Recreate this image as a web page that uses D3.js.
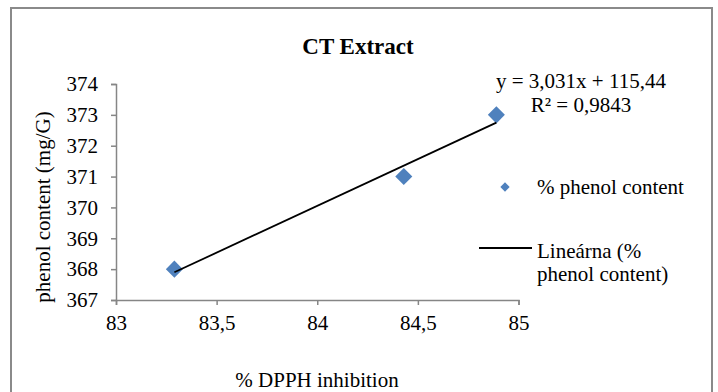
<!DOCTYPE html>
<html>
<head>
<meta charset="utf-8">
<script src="https://cdn.jsdelivr.net/npm/d3@7"></script>
<style>
  body { margin: 0; background: #fff; }
  svg text { font-family: "Liberation Serif", "Times New Roman", serif; fill: #000; }
</style>
</head>
<body>
<div id="chart"></div>
<script>
// data
const inhibition = [83.29, 84.43, 84.89]
const phenol = [368, 371, 373]
const xTicks = [83, 83.5, 84, 84.5, 85]
const yTicks = [367, 368, 369, 370, 371, 372, 373, 374]
const seriesName = "% phenol content"
const trendName = ["Lineárna (%", "phenol content)"]

const W = 718, H = 392
const FS = 21

const svg = d3.select("#chart").append("svg")
  .attr("width", W)
  .attr("height", H)

// outer chart frame (bottom runs off the picture)
svg.append("rect")
  .attr("x", 11).attr("y", 8)
  .attr("width", 701).attr("height", 400)
  .attr("fill", "none")
  .attr("stroke", "#8a8a8a")
  .attr("stroke-width", 2)

const x = d3.scaleLinear().domain([83, 85]).range([116, 518.5])
const y = d3.scaleLinear().domain([367, 374]).range([300, 84])

const fmt = d => String(d).replace(".", ",")

const xAxis = svg.append("g")
  .attr("transform", "translate(0,300)")
  .call(d3.axisBottom(x).tickValues(xTicks).tickFormat(fmt).tickSize(5).tickPadding(10))
const yAxis = svg.append("g")
  .attr("transform", "translate(116,0)")
  .call(d3.axisLeft(y).tickValues(yTicks).tickFormat(fmt).tickSize(5).tickPadding(13))

for (const ax of [xAxis, yAxis]) {
  ax.attr("font-family", "Liberation Serif, serif").attr("font-size", FS)
  ax.select(".domain").attr("stroke", "#868686").attr("stroke-width", 1.5)
  ax.selectAll(".tick line").attr("stroke", "#868686").attr("stroke-width", 1.5)
  ax.selectAll("text").attr("fill", "#000")
}

// least-squares trend line
const mx = d3.mean(inhibition), my = d3.mean(phenol)
const sxy = d3.sum(inhibition, (v, i) => (v - mx) * (phenol[i] - my))
const sxx = d3.sum(inhibition, v => (v - mx) ** 2)
const slope = sxy / sxx, icpt = my - slope * mx
const xr = d3.extent(inhibition)

const diamond = d3.symbol().type(d3.symbolDiamond2)

svg.selectAll(".pt")
  .data(inhibition)
  .enter()
  .append("path")
  .attr("class", "pt")
  .attr("d", diamond.size(185))
  .attr("transform", (d, i) => `translate(${x(d)},${y(phenol[i])})`)
  .attr("fill", "#4f81bd")

svg.append("line")
  .attr("x1", x(xr[0])).attr("y1", y(slope * xr[0] + icpt))
  .attr("x2", x(xr[1])).attr("y2", y(slope * xr[1] + icpt))
  .attr("stroke", "#000")
  .attr("stroke-width", 1.8)

// title and axis titles
svg.append("text")
  .attr("x", 358).attr("y", 54)
  .attr("text-anchor", "middle")
  .attr("font-size", 23).attr("font-weight", "bold")
  .text("CT Extract")

svg.append("text")
  .attr("transform", "translate(50,207) rotate(-90)")
  .attr("text-anchor", "middle")
  .attr("font-size", FS)
  .text("phenol content (mg/G)")

svg.append("text")
  .attr("x", 317).attr("y", 387)
  .attr("text-anchor", "middle")
  .attr("font-size", FS)
  .text("% DPPH inhibition")

// equation label
svg.append("text")
  .attr("x", 581).attr("y", 88)
  .attr("text-anchor", "middle")
  .attr("font-size", FS)
  .text("y = 3,031x + 115,44")
svg.append("text")
  .attr("x", 581).attr("y", 112)
  .attr("text-anchor", "middle")
  .attr("font-size", FS)
  .text("R² = 0,9843")

// legend
svg.append("path")
  .attr("d", diamond.size(55))
  .attr("transform", "translate(505,187)")
  .attr("fill", "#4f81bd")
svg.append("text")
  .attr("x", 537).attr("y", 194)
  .attr("font-size", FS)
  .text(seriesName)

svg.append("line")
  .attr("x1", 479).attr("x2", 532)
  .attr("y1", 248).attr("y2", 248)
  .attr("stroke", "#000").attr("stroke-width", 1.8)
svg.selectAll(".lg")
  .data(trendName)
  .enter()
  .append("text")
  .attr("class", "lg")
  .attr("x", 537)
  .attr("y", (d, i) => 258 + i * 23)
  .attr("font-size", FS)
  .text(d => d)
</script>
</body>
</html>
